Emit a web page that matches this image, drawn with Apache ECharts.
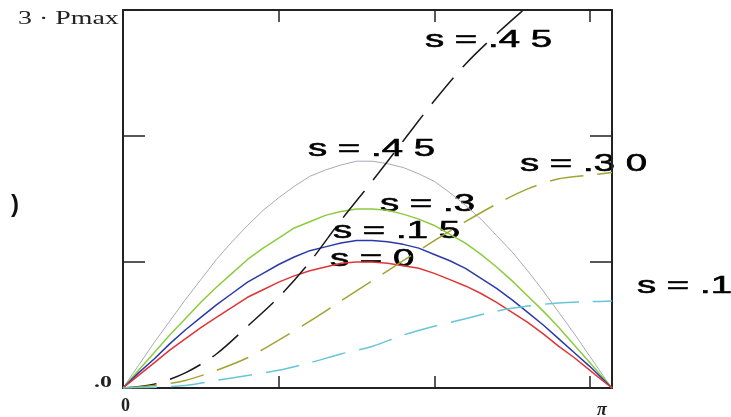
<!DOCTYPE html>
<html>
<head>
<meta charset="utf-8">
<script src="https://cdn.jsdelivr.net/npm/echarts@6/dist/echarts.min.js"></script>
<style>
  html, body { margin: 0; padding: 0; background: #fff; }
  #chart { width: 731px; height: 417px; }
</style>
</head>
<body>
<div id="chart"></div>
<script>
// load angle delta (rad), power in units of Pmax
const delta = [0, 0.1, 0.2, 0.3, 0.4, 0.5, 0.6, 0.7, 0.8, 0.9, 1.0, 1.1, 1.2, 1.3, 1.4, 1.5, 1.6,
    1.7, 1.8, 1.9, 2.0, 2.1, 2.2, 2.3, 2.4, 2.5, 2.6, 2.7, 2.8, 2.9, 3.0, 3.1, 3.1416];

// solid arches
const pS0 = [0, 0.10, 0.20, 0.30, 0.39, 0.48, 0.56, 0.64, 0.72, 0.78, 0.84, 0.89, 0.93, 0.96, 0.99, 1.00, 1.00,
    0.99, 0.97, 0.95, 0.91, 0.86, 0.81, 0.75, 0.68, 0.60, 0.52, 0.43, 0.33, 0.24, 0.14, 0.04, 0];
const pS15 = [0, 0.12, 0.23, 0.35, 0.46, 0.56, 0.66, 0.75, 0.84, 0.91, 0.98, 1.04, 1.09, 1.12, 1.15, 1.17, 1.17,
    1.16, 1.14, 1.11, 1.06, 1.01, 0.95, 0.87, 0.79, 0.70, 0.60, 0.50, 0.39, 0.28, 0.17, 0.05, 0];
const pS30 = [0, 0.14, 0.28, 0.42, 0.55, 0.68, 0.80, 0.91, 1.02, 1.11, 1.19, 1.27, 1.32, 1.37, 1.40, 1.42, 1.42,
    1.41, 1.38, 1.34, 1.29, 1.22, 1.15, 1.06, 0.96, 0.85, 0.73, 0.61, 0.48, 0.34, 0.20, 0.06, 0];
const pS45 = [0, 0.18, 0.36, 0.53, 0.70, 0.86, 1.02, 1.16, 1.29, 1.41, 1.51, 1.60, 1.68, 1.73, 1.77, 1.80, 1.80,
    1.78, 1.75, 1.70, 1.64, 1.55, 1.45, 1.34, 1.21, 1.08, 0.93, 0.77, 0.60, 0.43, 0.25, 0.07, 0];

// dashed curves (coarser sampling)
const deltaD = [0, 0.2, 0.4, 0.6, 0.8, 1.0, 1.2, 1.4, 1.6, 1.8, 2.0, 2.2, 2.4, 2.6, 2.8, 3.0, 3.1416];
const dS45 = [0, 0.03, 0.12, 0.27, 0.49, 0.72, 1.00, 1.33, 1.64, 1.96, 2.28, 2.57, 2.81, 3.03];
const dS30 = [0, 0.02, 0.06, 0.14, 0.24, 0.38, 0.53, 0.69, 0.85, 1.01, 1.17, 1.32, 1.46, 1.58, 1.66, 1.69, 1.71];
const dS10 = [0, 0.005, 0.02, 0.06, 0.10, 0.14, 0.20, 0.27, 0.33, 0.42, 0.49, 0.55, 0.61, 0.65, 0.675, 0.685, 0.69];

const xTicks = [1, 2, 3];
const yTicks = [0, 1, 2, 3];

const solid = (name, ys, color, w) => ({
    name: name,
    type: 'line',
    data: ys.map((v, i) => [delta[i], v]),
    smooth: false,
    symbol: 'none',
    lineStyle: { color: color, width: w, join: 'round' }
});
const dashed = (name, ys, color) => ({
    name: name,
    type: 'line',
    data: ys.map((v, i) => [deltaD[i], v]),
    smooth: 0.3,
    symbol: 'none',
    lineStyle: { color: color, width: 1.5, type: [34, 14] }
});

const lbl = (text, x, y) => ({
    type: 'text',
    x: x, y: y,
    scaleX: 1.6,
    style: {
        text: text,
        font: '24px "Liberation Sans", Arial, sans-serif',
        fill: '#000',
        stroke: '#000',
        lineWidth: 0.6,
        textVerticalAlign: 'middle'
    }
});

let chart = echarts.init(document.getElementById('chart'));

const frameAxis = {
    type: 'value',
    axisLine: { show: true, onZero: false, lineStyle: { color: '#222', width: 2 } },
    splitLine: { show: false },
    axisLabel: { show: false }
};

chart.setOption({
    backgroundColor: '#fff',
    animation: false,
    grid: { left: 123, top: 10, right: 119, bottom: 29 },
    xAxis: [
        Object.assign({}, frameAxis, {
            position: 'bottom', min: 0, max: Math.PI, interval: 1,
            axisTick: { show: true, inside: true, length: 12, lineStyle: { color: '#222', width: 1.5 },
                customValues: xTicks }
        }),
        Object.assign({}, frameAxis, {
            position: 'top', min: 0, max: Math.PI, interval: 1,
            axisTick: { show: true, inside: true, length: 12, lineStyle: { color: '#222', width: 1.5 },
                customValues: xTicks }
        })
    ],
    yAxis: [
        Object.assign({}, frameAxis, {
            position: 'left', min: 0, max: 3, interval: 1,
            axisTick: { show: true, inside: true, length: 22, lineStyle: { color: '#222', width: 1.5 },
                customValues: yTicks }
        }),
        Object.assign({}, frameAxis, {
            position: 'right', min: 0, max: 3, interval: 1,
            axisTick: { show: true, inside: true, length: 22, lineStyle: { color: '#222', width: 1.5 },
                customValues: yTicks }
        })
    ],
    series: [
        solid('s=.45', pS45, '#a9a9b8', 1),
        solid('s=.3', pS30, '#8ccc3c', 1.5),
        solid('s=.15', pS15, '#2b3aa6', 1.5),
        solid('s=0', pS0, '#e03535', 1.5),
        dashed('s=.45 d', dS45, '#1a1a1a'),
        dashed('s=.30 d', dS30, '#a3a332'),
        dashed('s=.1 d', dS10, '#66c6d6')
    ],
    graphic: [
        lbl('s = .4 5', 425, 40),
        lbl('s = .4 5', 308, 149),
        lbl('s = .3', 380, 204),
        lbl('s = .1 5', 333, 231),
        lbl('s = 0', 330, 259),
        lbl('s = .3 0', 520, 164),
        lbl('s = .1', 637, 286),
        {
            type: 'text', x: 18, y: 19, scaleX: 1.55,
            style: { text: '3 · Pmax', font: '18px "Liberation Serif", "Times New Roman", serif',
                fill: '#222', textVerticalAlign: 'middle' }
        },
        {
            type: 'text', x: 94, y: 383, scaleX: 1.4,
            style: { text: '.0', font: 'bold 17px "Liberation Serif", serif',
                fill: '#222', textVerticalAlign: 'middle' }
        },
        {
            type: 'text', x: 121, y: 406,
            style: { text: '0', font: 'bold 18px "Liberation Serif", serif',
                fill: '#222', textVerticalAlign: 'middle' }
        },
        {
            type: 'text', x: 597, y: 410,
            style: { text: 'π', font: 'italic bold 18px "Liberation Serif", serif',
                fill: '#222', textVerticalAlign: 'middle' }
        },
        {
            type: 'text', x: 11, y: 205,
            style: { text: ')', font: 'bold 24px "Liberation Sans", sans-serif',
                fill: '#111', textVerticalAlign: 'middle' }
        }
    ]
});
</script>
</body>
</html>
